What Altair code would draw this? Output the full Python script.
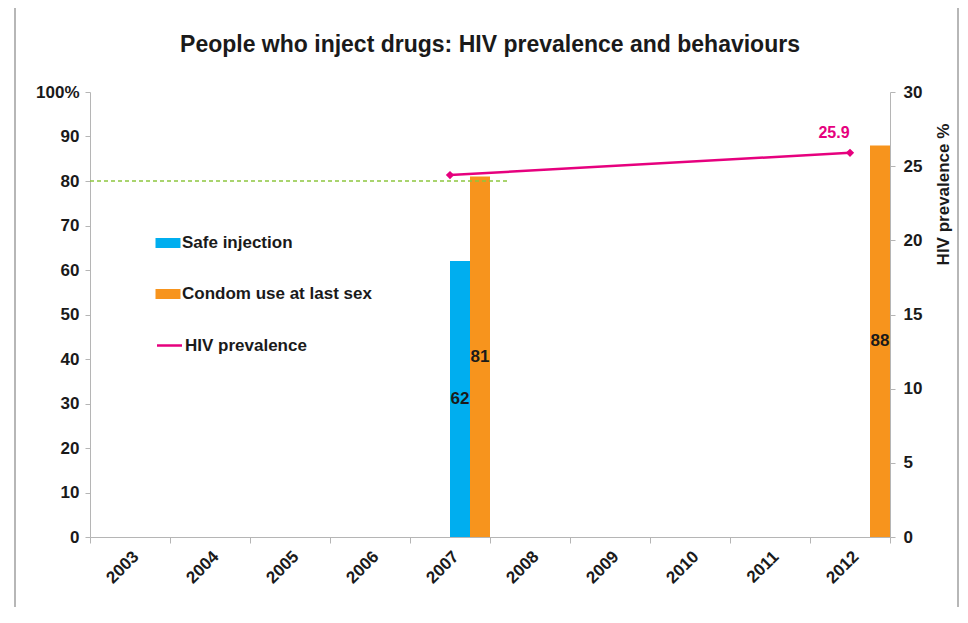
import altair as alt
import pandas as pd

# ---------------- data ----------------
years = ['2003', '2004', '2005', '2006', '2007', '2008', '2009', '2010', '2011', '2012']
bar_years = ['2007', '2007', '2012']
bar_series = ['Safe injection', 'Condom use at last sex', 'Condom use at last sex']
bar_values = [62, 81, 88]
hiv_years = ['2007', '2012']
hiv_values = [24.4, 25.9]
hiv_labels = ['', '25.9']
target_value = [80]
target_start = ['2003']
target_end = ['2008']

series_domain = ['Safe injection', 'Condom use at last sex']
slot_domain = ['_s1', '_s2'] + series_domain
bar_colors = ['#00AEEF', '#F7941D']
hiv_color = '#E6007E'
target_color = '#8DC63F'
FONT = 'Liberation Sans'
TXT = '#1a1a1a'

bars_df = pd.DataFrame({'year': bar_years, 'series': bar_series, 'value': bar_values})
hiv_df = pd.DataFrame({'year': hiv_years, 'hiv': hiv_values, 'label': hiv_labels,
                       'series': ['HIV prevalence'] * len(hiv_years)})
target_df = pd.DataFrame({'year': target_start, 'end': target_end, 'value': target_value})
frame_df = pd.DataFrame({'k': [0]})

# ---------------- encodings ----------------
xscale = alt.Scale(domain=years, paddingInner=0, paddingOuter=0)
xaxis = alt.Axis(title=None, labelAngle=-45, labelAlign='right', labelBaseline='top',
                 tickBand='extent', labelFont=FONT, labelFontWeight='bold', labelFontSize=17,
                 labelColor=TXT, labelPadding=5, domainColor='#b5b5b5', tickColor='#b5b5b5',
                 tickSize=6, grid=False)
yscale_left = alt.Scale(domain=[0, 100], nice=False)
yscale_right = alt.Scale(domain=[0, 30], nice=False)

left_axis = alt.Axis(title=None, values=list(range(0, 101, 10)),
                     labelExpr="datum.value == 100 ? '100%' : datum.label",
                     labelFont=FONT, labelFontWeight='bold', labelFontSize=17, labelColor=TXT,
                     labelPadding=6, domainColor='#b5b5b5', tickColor='#b5b5b5', tickSize=5, grid=False)
right_axis = alt.Axis(title='HIV prevalence %', orient='right', values=list(range(0, 31, 5)),
                      labelFont=FONT, labelFontWeight='bold', labelFontSize=17, labelColor=TXT,
                      labelPadding=8, titleFont=FONT, titleFontWeight='bold', titleFontSize=17,
                      titleColor=TXT, titleAngle=270, titleAlign='center', titleBaseline='middle',
                      titleX=53, titleY=102, domainColor='#b5b5b5', tickColor='#b5b5b5',
                      tickSize=5, grid=False)

x_enc = alt.X('year:O', scale=xscale, axis=xaxis)
xoff = alt.XOffset('series:N', scale=alt.Scale(domain=slot_domain, paddingInner=0, paddingOuter=0))

bars = alt.Chart(bars_df).mark_bar(size=20).encode(
    x=x_enc,
    xOffset=xoff,
    y=alt.Y('value:Q', scale=yscale_left, axis=left_axis),
    fill=alt.Fill('series:N', scale=alt.Scale(domain=series_domain, range=bar_colors),
                  legend=alt.Legend(title=None, orient='none', legendX=68, legendY=141,
                                    symbolType='M-1.25,-0.5L1.25,-0.5L1.25,0.5L-1.25,0.5Z',
                                    symbolSize=400, symbolStrokeWidth=0, labelLimit=0,
                                    labelFont=FONT, labelFontWeight='bold', labelFontSize=17,
                                    labelColor=TXT, rowPadding=33, labelOffset=4)),
)

bar_text = alt.Chart(bars_df).mark_text(font=FONT, fontWeight='bold', fontSize=17, color=TXT).encode(
    x=x_enc,
    xOffset=xoff,
    y=alt.Y('half:Q', scale=yscale_left, axis=left_axis),
    text=alt.Text('value:Q'),
).transform_calculate(half='datum.value / 2')

target = alt.Chart(target_df).mark_rule(color=target_color, strokeDash=[4, 3], strokeWidth=1.5).encode(
    x=alt.X('year:O', scale=xscale, axis=xaxis, bandPosition=0),
    x2=alt.X2('end', bandPosition=0.22),
    y=alt.Y('value:Q', scale=yscale_left, axis=left_axis),
)

frame = alt.Chart(frame_df).mark_rect(fill=None, stroke='#a0a0a0', strokeWidth=1.5).encode(
    x=alt.value(-75), x2=alt.value(868), y=alt.value(-92), y2=alt.value(560)
)

left = alt.layer(frame, bars, bar_text, target)

hiv_line = alt.Chart(hiv_df).mark_line(strokeWidth=2.5, point=alt.OverlayMarkDef(
    shape='diamond', size=30, filled=True, color=hiv_color)).encode(
    x=x_enc,
    y=alt.Y('hiv:Q', scale=yscale_right, axis=right_axis),
    stroke=alt.Stroke('series:N', scale=alt.Scale(domain=['HIV prevalence'], range=[hiv_color]),
                      legend=alt.Legend(title=None, orient='none', legendX=68, legendY=242,
                                        symbolType='M-1.25,0L1.25,0', symbolSize=400,
                                        symbolStrokeWidth=2.5, labelLimit=0,
                                        labelFont=FONT, labelFontWeight='bold', labelFontSize=17,
                                        labelColor=TXT, labelOffset=4)),
)
hiv_text = alt.Chart(hiv_df).mark_text(font=FONT, fontWeight='bold', fontSize=16, color=hiv_color,
                                       dx=-16, dy=-20).encode(
    x=x_enc,
    y=alt.Y('hiv:Q', scale=yscale_right, axis=right_axis),
    text='label:N',
)
right = alt.layer(hiv_line, hiv_text)

chart = alt.layer(left, right).resolve_scale(y='independent').properties(
    width=800, height=445,
    title=alt.TitleParams('People who inject drugs: HIV prevalence and behaviours',
                          font=FONT, fontWeight='bold', fontSize=23, color=TXT,
                          anchor='middle', offset=0, dy=58),
    autosize=alt.AutoSizeParams(type='none'),
    padding={'left': 82, 'top': 84, 'right': 70, 'bottom': 70},
).configure(background='white', view=alt.ViewConfig(stroke=None))

chart.save('out.html', embed_options={'renderer': 'svg', 'actions': False})
